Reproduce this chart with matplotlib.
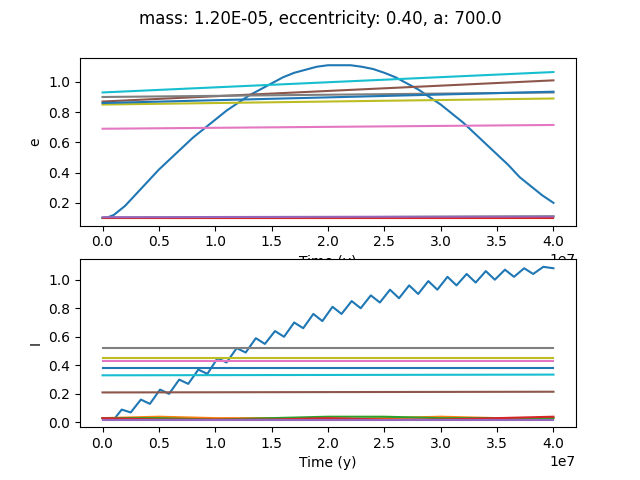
import matplotlib
matplotlib.use("Agg")
import matplotlib.pyplot as plt

# Top panel (e) series: time in units of 1e6 y
t_arc = [0, 0.5, 1, 1.5, 2, 3, 4, 5, 6, 7, 8, 9, 10, 11, 12, 13, 14, 15, 16, 17, 18, 19, 20, 21, 22, 23, 24, 25, 26, 27,
         28, 29, 30, 31, 32, 33, 34, 35, 36, 37, 38, 39, 40]
e_arc = [0.10, 0.105, 0.12, 0.15, 0.18, 0.26, 0.34, 0.42, 0.49, 0.56, 0.63, 0.69, 0.75, 0.81, 0.86, 0.91, 0.95, 0.99, 1.03,
         1.06, 1.08, 1.10, 1.11, 1.11, 1.11, 1.10, 1.085, 1.06, 1.03, 0.99, 0.95, 0.90, 0.85, 0.79, 0.73, 0.66, 0.59, 0.52,
         0.45, 0.37, 0.31, 0.25, 0.20]
t_lin = [0, 40]
e_small = {"C1": [0.10, 0.10], "C2": [0.10, 0.11], "C3": [0.10, 0.10], "C4": [0.105, 0.11]}
e_lines = {"C5": [0.87, 1.01], "C6": [0.69, 0.715], "C7": [0.90, 0.93], "C8": [0.85, 0.89], "C9": [0.93, 1.065], "C0": [0.86, 0.935]}

# Bottom panel (I)
t_w = [0, 1, 1.7, 2.5, 3.4, 4.2, 5.1, 5.9, 6.8, 7.6, 8.5, 9.3, 10.2, 11.0, 11.9, 12.7, 13.6, 14.4, 15.3, 16.1,
       17.0, 17.8, 18.7, 19.5, 20.4, 21.2, 22.1, 22.9, 23.8, 24.6, 25.5, 26.3, 27.2, 28.0, 28.9, 29.7, 30.6, 31.4,
       32.3, 33.1, 34.0, 34.8, 35.7, 36.5, 37.4, 38.2, 39.1, 40]
I_w = [0.03, 0.02, 0.09, 0.07, 0.16, 0.13, 0.23, 0.20, 0.30, 0.27, 0.37, 0.34, 0.45, 0.42, 0.52, 0.49, 0.59, 0.55, 0.64, 0.60,
       0.70, 0.66, 0.76, 0.71, 0.81, 0.76, 0.85, 0.80, 0.89, 0.84, 0.93, 0.87, 0.96, 0.90, 0.99, 0.93, 1.02, 0.96,
       1.04, 0.98, 1.06, 1.00, 1.07, 1.02, 1.08, 1.04, 1.09, 1.08]
t_s = [0, 5, 10, 15, 20, 25, 30, 35, 40]
I_small = {"C1": [0.03, 0.04, 0.03, 0.03, 0.02, 0.03, 0.04, 0.03, 0.03],
           "C2": [0.03, 0.03, 0.02, 0.03, 0.04, 0.04, 0.03, 0.03, 0.03],
           "C3": [0.03, 0.02, 0.02, 0.02, 0.03, 0.02, 0.02, 0.03, 0.04],
           "C4": [0.02, 0.02, 0.02, 0.02, 0.02, 0.02, 0.02, 0.02, 0.02]}
I_lines = {"C5": [0.21, 0.215], "C6": [0.43, 0.43], "C7": [0.52, 0.52], "C8": [0.45, 0.45], "C9": [0.33, 0.335], "C0": [0.38, 0.38]}

fig, (ax1, ax2) = plt.subplots(2, 1, figsize=(6.4, 4.8), dpi=100)
fig.suptitle("mass: 1.20E-05, eccentricity: 0.40, a: 700.0")
sc = 1e6
ax1.plot([x * sc for x in t_arc], e_arc, color="C0")
for c, v in e_small.items():
    ax1.plot([x * sc for x in t_lin], v, color=c)
for c, v in e_lines.items():
    ax1.plot([x * sc for x in t_lin], v, color=c)
ax1.set_ylabel("e")
ax1.set_xlabel("Time (y)")

ax2.plot([x * sc for x in t_w], I_w, color="C0")
for c, v in I_small.items():
    ax2.plot([x * sc for x in t_s], v, color=c)
for c, v in I_lines.items():
    ax2.plot([x * sc for x in t_lin], v, color=c)
ax2.set_ylabel("I")
ax2.set_xlabel("Time (y)")
fig.savefig("out.png")
